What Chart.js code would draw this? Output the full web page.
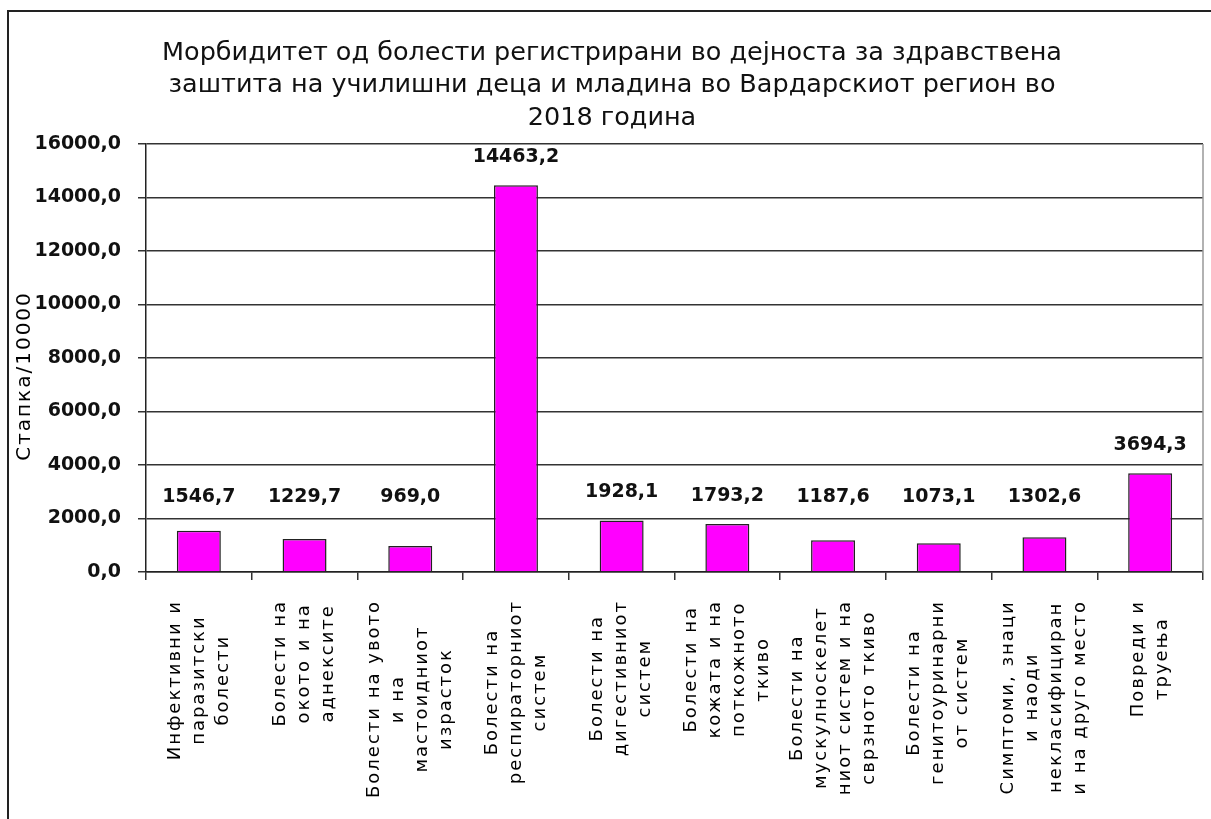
<!DOCTYPE html>
<html>
<head>
<meta charset="utf-8">
<script src="https://cdn.jsdelivr.net/npm/chart.js@4.4.1/dist/chart.umd.min.js"></script>
<style>
  html, body { margin: 0; padding: 0; background: #fff; }
  canvas { display: block; }
</style>
</head>
<body>
<canvas id="grafik" width="1211" height="819"></canvas>
<script>
// podatoci
const naslov = [
  "Морбидитет од болести регистрирани во дејноста за здравствена",
  "заштита на училишни деца и младина во Вардарскиот регион во",
  "2018 година"
];
const naslovY = "Стапка/10000";

const kategorii = [
  ["Инфективни и", "паразитски", "болести"],
  ["Болести на", "окото и на", "аднексите"],
  ["Болести на увото", "и на", "мастоидниот", "израсток"],
  ["Болести на", "респираторниот", "систем"],
  ["Болести на", "дигестивниот", "систем"],
  ["Болести на", "кожата и на", "поткожното", "ткиво"],
  ["Болести на", "мускулноскелет", "ниот систем и на", "сврзното ткиво"],
  ["Болести на", "генитоуринарни", "от систем"],
  ["Симптоми, знаци", "и наоди", "некласифициран", "и на друго место"],
  ["Повреди и", "труења"]
];

const stapki = [1546.7, 1229.7, 969.0, 14463.2, 1928.1, 1793.2, 1187.6, 1073.1, 1302.6, 3694.3];

const yPodelci = [0, 2000, 4000, 6000, 8000, 10000, 12000, 14000, 16000];

const formatBroj = v => v.toFixed(1).replace(".", ",");

// ramka okolu celiot grafik
const ramka = {
  id: "ramka",
  beforeDraw(chart) {
    const ctx = chart.ctx;
    ctx.save();
    ctx.fillStyle = "#fff";
    ctx.fillRect(0, 0, chart.width, chart.height);
    ctx.strokeStyle = "#222";
    ctx.lineWidth = 2;
    ctx.strokeRect(8, 11, chart.width + 10, chart.height + 10);
    ctx.restore();
  },
  afterDraw(chart) {
    const { ctx, chartArea } = chart;
    ctx.save();
    ctx.strokeStyle = "#999";
    ctx.lineWidth = 1.5;
    ctx.beginPath();
    ctx.moveTo(chartArea.right, chartArea.top);
    ctx.lineTo(chartArea.right, chartArea.bottom);
    ctx.stroke();
    ctx.restore();
  }
};

// rotirani iminja na kategoriite, centrirani redovi
const oznakiX = {
  id: "oznakiX",
  afterDraw(chart) {
    const ctx = chart.ctx;
    const xs = chart.scales.x;
    const razmak = 2;
    ctx.save();
    ctx.font = '18px "DejaVu Sans"';
    ctx.fillStyle = "#000";
    ctx.textAlign = "center";
    ctx.textBaseline = "middle";
    kategorii.forEach((redovi, i) => {
      const sirini = redovi.map(r => ctx.measureText(r).width + r.length * razmak);
      const maks = Math.max(...sirini);
      const x = xs.getPixelForValue(i);
      const y = 600 + maks / 2;
      ctx.save();
      ctx.translate(x, y);
      ctx.rotate(-Math.PI / 2);
      ctx.letterSpacing = razmak + "px";
      redovi.forEach((r, j) => {
        ctx.fillText(r, 0, (j - (redovi.length - 1) / 2) * 24);
      });
      ctx.restore();
    });
    // naslov na y oskata
    ctx.save();
    ctx.font = '20px "DejaVu Sans"';
    ctx.letterSpacing = "2px";
    ctx.translate(25, 376);
    ctx.rotate(-Math.PI / 2);
    ctx.fillText(naslovY, 0, 0);
    ctx.restore();
    ctx.restore();
  }
};

// vrednosti nad stolbovite
const vrednosti = {
  id: "vrednosti",
  afterDatasetsDraw(chart) {
    const ctx = chart.ctx;
    const ys = chart.scales.y;
    const meta = chart.getDatasetMeta(0);
    ctx.save();
    ctx.font = 'bold 19px "DejaVu Sans"';
    ctx.fillStyle = "#111";
    ctx.textAlign = "center";
    ctx.textBaseline = "middle";
    meta.data.forEach((bar, i) => {
      const y = Math.min(bar.y - 28, ys.getPixelForValue(2800));
      ctx.fillText(formatBroj(stapki[i]), bar.x, y);
    });
    ctx.restore();
  }
};

new Chart(document.getElementById("grafik"), {
  type: "bar",
  data: {
    labels: kategorii,
    datasets: [{
      data: stapki,
      backgroundColor: "#ff00ff",
      borderColor: "#222",
      borderWidth: 1.5,
      barPercentage: 0.416,
      categoryPercentage: 1
    }]
  },
  options: {
    responsive: false,
    animation: false,
    devicePixelRatio: 1,
    layout: { padding: { left: 21, right: 8, top: 0, bottom: 239 } },
    plugins: {
      legend: { display: false },
      tooltip: { enabled: false },
      title: {
        display: true,
        text: naslov,
        color: "#111",
        font: { family: "DejaVu Sans", size: 25.5, weight: "normal", lineHeight: 1.275 },
        padding: { top: 37, bottom: 9.5 }
      }
    },
    scales: {
      x: {
        ticks: { display: false },
        grid: { display: true, drawOnChartArea: false, drawTicks: true, tickLength: 8, color: "#333", lineWidth: 1.5 },
        border: { display: true, color: "#222", width: 1.5 },
        afterFit(s) { s.height = 8; }
      },
      y: {
        min: 0,
        max: 16000,
        afterBuildTicks(s) { s.ticks = yPodelci.map(v => ({ value: v })); },
        ticks: {
          color: "#111",
          padding: 17,
          font: { family: "DejaVu Sans", size: 19, weight: "bold" },
          callback: v => formatBroj(v)
        },
        grid: { color: "#333", lineWidth: 1.5, tickLength: 8 },
        border: { display: true, color: "#222", width: 1.5 },
        afterFit(s) { s.width = 125; }
      }
    }
  },
  plugins: [ramka, oznakiX, vrednosti]
});
</script>
</body>
</html>
